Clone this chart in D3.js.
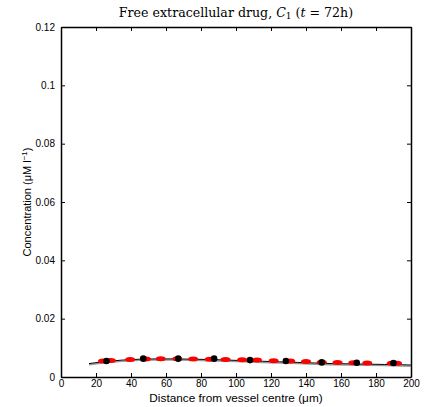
<!DOCTYPE html>
<html>
<head>
<meta charset="utf-8">
<script src="https://cdn.jsdelivr.net/npm/d3@7"></script>
<style>
  body { margin: 0; background: #fff; }
  text { font-family: "Liberation Sans", Arial, sans-serif; }
</style>
</head>
<body>
<script>
// model curve
let modelX = [16, 25, 35, 45, 55, 65, 75, 85, 95, 105, 115, 125, 135, 145, 155, 165, 175, 185, 195, 200];
let modelY = [0.0046, 0.0053, 0.0058, 0.0061, 0.0062, 0.0062, 0.0061, 0.0060, 0.0058, 0.0056,
              0.0054, 0.0052, 0.0050, 0.0048, 0.0046, 0.0045, 0.0044, 0.0043, 0.0042, 0.0041];
// black data points
let blackX = [26, 47, 67, 87.5, 108, 128.5, 149, 169, 190];
let blackY = [0.0055, 0.0063, 0.0063, 0.0063, 0.0058, 0.0055, 0.0050, 0.0049, 0.0048];
// red data points
let redX = [24, 28.5, 39.5, 48.5, 57, 66.5, 75.5, 85, 94, 103.5, 112, 121.5, 131, 140, 149, 158, 167, 175, 189, 192];
let redY = [0.0055, 0.0057, 0.0060, 0.0062, 0.0063, 0.0063, 0.0062, 0.0061, 0.0060, 0.0059,
            0.0058, 0.0056, 0.0055, 0.0053, 0.0051, 0.0050, 0.0049, 0.0048, 0.0047, 0.0047];
let xTicks = [0, 20, 40, 60, 80, 100, 120, 140, 160, 180, 200];
let yTicks = [0, 0.02, 0.04, 0.06, 0.08, 0.1, 0.12];

let width = 428, height = 407;
let m = {left: 61, right: 17, top: 27, bottom: 30};

let svg = d3.select('body')
  .append('svg')
  .attr('width', width)
  .attr('height', height);

let x = d3.scaleLinear().domain([0, 200]).range([m.left, width - m.right]);
let y = d3.scaleLinear().domain([0, 0.12]).range([height - m.bottom, m.top]);

// axes, ticks pointing in, on all four sides
let fmtY = d => d === 0 ? "0" : d3.format("")(+d.toFixed(2));
svg.append("g")
  .attr("transform", "translate(0," + y(0) + ")")
  .call(d3.axisBottom(x).tickValues(xTicks).tickSizeInner(-4).tickSizeOuter(0).tickPadding(3));
svg.append("g")
  .attr("transform", "translate(0," + y(0.12) + ")")
  .call(d3.axisTop(x).tickValues(xTicks).tickSizeInner(-4).tickSizeOuter(0).tickFormat(""));
svg.append("g")
  .attr("transform", "translate(" + x(0) + ",0)")
  .call(d3.axisLeft(y).tickValues(yTicks).tickSizeInner(-4).tickSizeOuter(0).tickPadding(6).tickFormat(fmtY));
svg.append("g")
  .attr("transform", "translate(" + x(200) + ",0)")
  .call(d3.axisRight(y).tickValues(yTicks).tickSizeInner(-4).tickSizeOuter(0).tickFormat(""));

svg.selectAll(".tick text")
  .style("font-family", "Liberation Sans, Arial, sans-serif")
  .style("font-size", "10px")
  .attr("fill", "#000");
svg.selectAll(".domain").attr("stroke", "#000").attr("stroke-width", 1.5);

// grey band line slightly under the model
let line = d3.line().x((d, i) => x(modelX[i])).y(d => y(d));
svg.append("path")
  .datum(modelY.map(v => v - 0.0004))
  .attr("fill", "none")
  .attr("stroke", "#999")
  .attr("stroke-width", 1.5)
  .attr("d", line);

svg.append("path")
  .datum(modelY)
  .attr("fill", "none")
  .attr("stroke", "#000")
  .attr("stroke-width", 1)
  .attr("d", line);

// red points
svg.append("g")
  .selectAll("ellipse")
  .data(redX)
  .enter().append("ellipse")
  .attr("cx", d => x(d))
  .attr("cy", (d, i) => y(redY[i]))
  .attr("rx", 5)
  .attr("ry", 2.5)
  .attr("fill", "#ff0000");

// black points
svg.append("g")
  .selectAll("circle")
  .data(blackX)
  .enter().append("circle")
  .attr("cx", d => x(d))
  .attr("cy", (d, i) => y(blackY[i]))
  .attr("r", 3.3)
  .attr("fill", "#000");

// title
let title = svg.append("text")
  .attr("x", (x(0) + x(200)) / 2)
  .attr("y", 17)
  .attr("text-anchor", "middle")
  .style("font-family", "DejaVu Serif, Liberation Serif, serif")
  .style("font-size", "12.6px");
title.append("tspan").text("Free extracellular drug, ");
title.append("tspan").style("font-style", "italic").text("C");
title.append("tspan").attr("dy", 2).style("font-size", "9px").text("1");
title.append("tspan").attr("dy", -2).text(" (");
title.append("tspan").style("font-style", "italic").text("t");
title.append("tspan").text(" = 72h)");

// x label
svg.append("text")
  .attr("x", (x(0) + x(200)) / 2)
  .attr("y", 402)
  .attr("text-anchor", "middle")
  .style("font-size", "11.8px")
  .text("Distance from vessel centre (\u03bcm)");

// y label
let yl = svg.append("text")
  .attr("transform", "translate(31," + ((y(0) + y(0.12)) / 2) + ") rotate(-90)")
  .attr("text-anchor", "middle")
  .style("font-size", "11px");
yl.append("tspan").text("Concentration (\u03bcM l");
yl.append("tspan").attr("dy", -4).style("font-size", "8px").text("\u22121");
yl.append("tspan").attr("dy", 4).text(")");
</script>
</body>
</html>
